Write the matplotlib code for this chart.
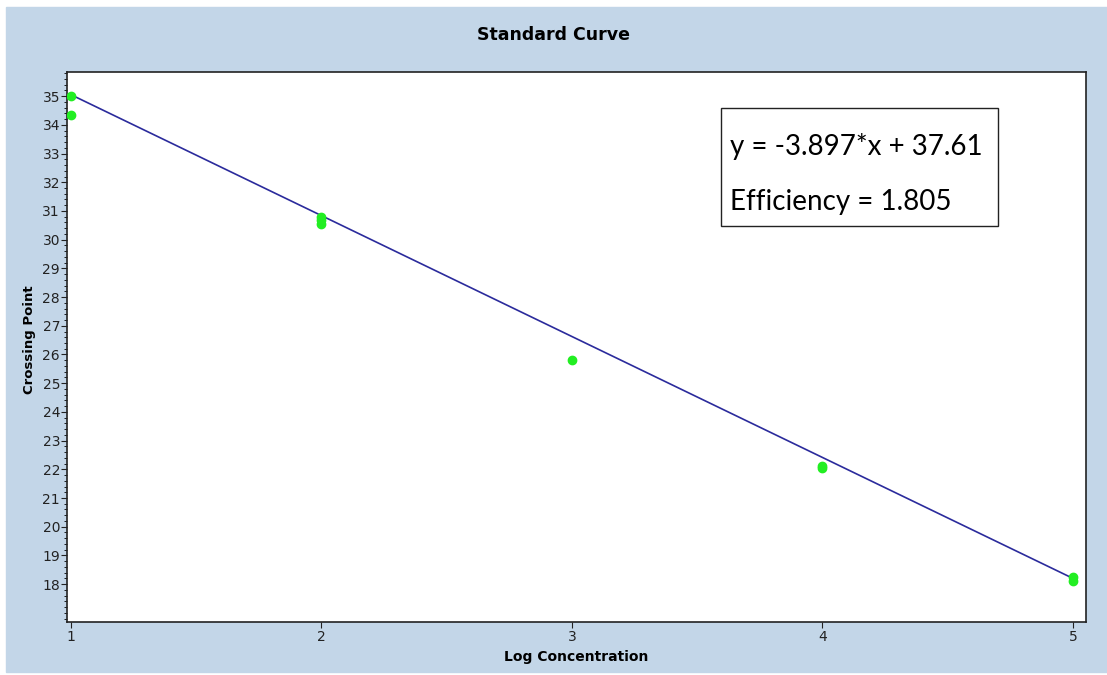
#!/usr/bin/python3

import matplotlib.pyplot as plt
from matplotlib.patches import Rectangle
from matplotlib.ticker import MultipleLocator

# measured standards: log concentration vs crossing point
log_conc = [1, 1, 2, 2, 2, 3, 4, 4, 5, 5]
crossing_point = [35.0, 34.35, 30.8, 30.7, 30.55, 25.8, 22.1, 22.05, 18.25, 18.1]

# regression line as drawn, end points
fit_x = [1, 5]
fit_y = [35.05, 18.2]

equation_text = "y = -3.897*x + 37.61"
efficiency_text = "Efficiency = 1.805"

BG = "#c3d6e8"


def plot_curve():
    fig = plt.figure(figsize=(11.07, 6.75), dpi=100, facecolor="white")
    fig.patches.append(Rectangle((6 / 1107, 3 / 675), 1101 / 1107, 665 / 675,
                                 transform=fig.transFigure, color=BG, zorder=-1))
    ax = fig.add_axes([0.0605, 0.0785, 0.9205, 0.8148])
    ax.set_facecolor("white")

    ax.plot(fit_x, fit_y, color="#2b2b9c", lw=1.2, zorder=2)
    ax.plot(log_conc, crossing_point, "o", color="#22ee22", ms=6,
            mec="#22ee22", zorder=3)

    ax.set_xlim(0.984, 5.052)
    ax.set_ylim(16.68, 35.84)
    ax.set_xticks([1, 2, 3, 4, 5])
    ax.yaxis.set_minor_locator(MultipleLocator(0.2))
    ax.set_yticks(range(18, 36))
    ax.tick_params(axis="both", labelsize=10, direction="out", colors="#222222",
                   length=4, width=0.8)
    ax.tick_params(axis="y", which="minor", length=2, width=0.6)
    ax.tick_params(axis="x", pad=2)
    ax.tick_params(axis="y", pad=1)
    for s in ax.spines.values():
        s.set_linewidth(1.2)
        s.set_color("#222222")

    fig.text(0.5, 1 - 35 / 675, "Standard Curve", ha="center", va="center",
             fontsize=12.5, fontweight="bold", family="DejaVu Sans")
    fig.text(576 / 1107, 1 - 657 / 675, "Log Concentration", ha="center",
             va="center", fontsize=10, fontweight="bold", family="DejaVu Sans")
    fig.text(30 / 1107, 1 - 340 / 675, "Crossing Point", ha="center", va="center",
             rotation=90, fontsize=9.5, fontweight="bold", family="DejaVu Sans")

    box = Rectangle((721 / 1107, 1 - 226 / 675), 277 / 1107, 118 / 675,
                    transform=fig.transFigure, facecolor="white",
                    edgecolor="#222222", lw=1.0, zorder=5)
    fig.patches.append(box)
    fig.text(730 / 1107, 1 - 146 / 675, equation_text, ha="left", va="center",
             fontsize=20, family="Lato", zorder=6)
    fig.text(730 / 1107, 1 - 202 / 675, efficiency_text, ha="left", va="center",
             fontsize=20, family="Lato", zorder=6)

    fig.savefig("out.png", dpi=100, facecolor=fig.get_facecolor())


def main():
    plot_curve()


if __name__ == "__main__":
    main()
